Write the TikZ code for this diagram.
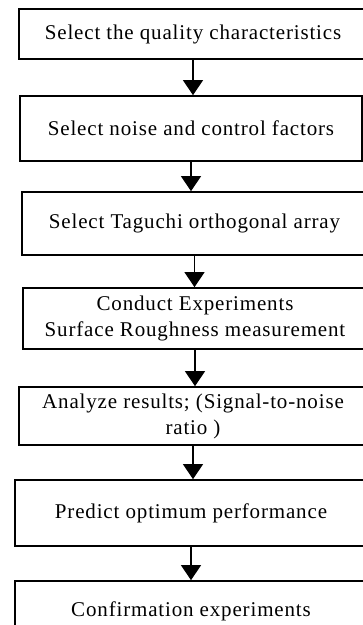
\documentclass[tikz,border=0pt]{standalone}
\usepackage{fontspec}
\setmainfont{Liberation Serif}
\usetikzlibrary{arrows.meta, positioning}

\tikzset{
  stepbox/.style={draw, line width=1.7pt, inner sep=0pt, align=center,
    font=\fontsize{21}{26}\selectfont\addfontfeatures{LetterSpace=4}},
  flowarrow/.style={line width=1.1pt, -{Triangle[width=20pt,length=15pt]}}
}

\begin{document}
\begin{tikzpicture}[x=1pt,y=-1pt]
  \useasboundingbox (0,0) rectangle (363,625);

  \node[stepbox,minimum width=348pt,minimum height=50pt] (quality) at (193,34)
    {Select the quality characteristics};
  \node[stepbox,minimum width=342pt,minimum height=65pt] (factors) at (191,128.5)
    {Select noise and control factors};
  \node[stepbox,minimum width=345pt,minimum height=63pt] (array) at (194.5,223.5)
    {Select Taguchi orthogonal array};
  \node[stepbox,minimum width=344pt,minimum height=61pt] (experiments) at (195,318.5)
    {Conduct Experiments\\Surface Roughness measurement};
  \node[stepbox,minimum width=348pt,minimum height=58pt] (analyze) at (193,416)
    {Analyze results; (Signal-to-noise\\ratio )};
  \node[stepbox,minimum width=352pt,minimum height=66pt] (predict) at (191,513)
    {Predict optimum performance};
  \node[stepbox,minimum width=352pt,minimum height=60pt] (confirm) at (191,611)
    {Confirmation experiments};

  % arrows between the steps
  \foreach \a/\b in {quality/factors,factors/array,array/experiments,
                     experiments/analyze,analyze/predict,predict/confirm}
    \draw[flowarrow] (\a.south) -- (\a.south |- \b.north);
\end{tikzpicture}
\end{document}
